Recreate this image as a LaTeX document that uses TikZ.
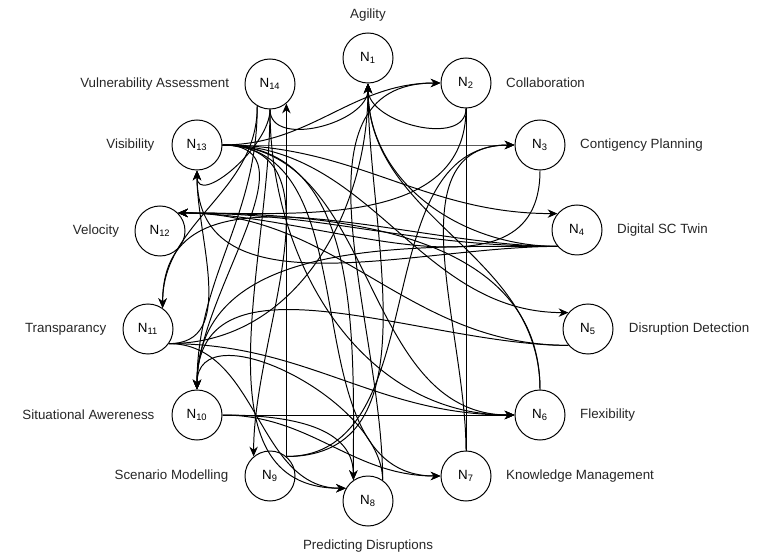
\documentclass[tikz,border=0pt]{standalone}
\usepackage{fontspec}
\setmainfont{Liberation Sans}
\usetikzlibrary{arrows.meta,positioning}

\begin{document}
\begin{tikzpicture}[
    x=0.025cm, y=0.025cm,
    every node/.style={font=\fontsize{9.5}{11}\selectfont},
    state/.style={circle, draw, line width=0.7pt, minimum size=1.25cm, inner sep=0pt},
    lbl/.style={inner sep=0pt, text=black!85},
    edge/.style={->, line width=0.7pt},
    >={Stealth[length=7pt,width=6pt]}
]
    \useasboundingbox (0,0) rectangle (761,553);

    \node[state] (n1) at (368,495) {N\textsubscript{1}};
    \node[state] (n2) at (466,470) {N\textsubscript{2}};
    \node[state] (n3) at (540,408) {N\textsubscript{3}};
    \node[state] (n4) at (577,323) {N\textsubscript{4}};
    \node[state] (n5) at (588,224) {N\textsubscript{5}};
    \node[state] (n6) at (540,138) {N\textsubscript{6}};
    \node[state] (n7) at (466,77) {N\textsubscript{7}};
    \node[state] (n8) at (368,52) {N\textsubscript{8}};
    \node[state] (n9) at (270,77) {N\textsubscript{9}};
    \node[state] (n10) at (197,138) {N\textsubscript{10}};
    \node[state] (n11) at (148,224) {N\textsubscript{11}};
    \node[state] (n12) at (160,322) {N\textsubscript{12}};
    \node[state] (n13) at (197,408) {N\textsubscript{13}};
    \node[state] (n14) at (270,469) {N\textsubscript{14}};

    \node[lbl, above=0.27cm of n1] (agility) {Agility};
    \node[lbl, right=0.36cm of n2] (collab) {Collaboration};
    \node[lbl, right=0.36cm of n3] (contig) {Contigency Planning};
    \node[lbl, right=0.36cm of n4] (twin) {Digital SC Twin};
    \node[lbl, right=0.38cm of n5] (detect) {Disruption Detection};
    \node[lbl, right=0.36cm of n6] (flex) {Flexibility};
    \node[lbl, right=0.36cm of n7] (knowl) {Knowledge Management};
    \node[lbl, below=0.33cm of n8] (predict) {Predicting Disruptions};
    \node[lbl, left=0.4cm of n9] (scen) {Scenario Modelling};
    \node[lbl, left=0.42cm of n10] (situ) {Situational Awereness};
    \node[lbl, left=0.4cm of n11] (transp) {Transparancy};
    \node[lbl, left=0.38cm of n12] (velo) {Velocity};
    \node[lbl, left=0.42cm of n13] (visib) {Visibility};
    \node[lbl, left=0.38cm of n14] (vulner) {Vulnerability Assessment};

    \draw[edge] (n13.east) to[out=0,in=180] (n2.west);
    \draw[edge] (n13.east) to[out=0,in=180] (n3.west);
    \draw[edge] (n13.east) to[out=0,in=180] (n4.140);
    \draw[edge] (n13.east) to[out=0,in=180] (n5.140);
    \draw[edge] (n13.east) to[out=0,in=180] (n6.west);
    \draw[edge] (n13.east) to[out=0,in=180] (n7.west);
    \draw[edge] (n13.east) to[out=0,in=90] (n8.125);
    \draw[edge] (n13.east) to[out=0,in=90] (n9.130);
    \draw[edge] (n13.east) to[out=0,in=90] (n10.north);
    \draw[edge] (n14.south) to[out=-90,in=-90] (n13.south);
    \draw[edge] (n14.-120) to[out=-90,in=90] (n10.north);
    \draw[edge] (n14.-120) to[out=-90,in=90] (n11.55);
    \draw[edge] (n14.south) to[out=-90,in=180] (n6.west);
    \draw[edge] (n14.south) to[out=-90,in=-90] (n1.south);
    \draw[edge] (n14.south) to[out=-90,in=180] (n8.150);
    \draw[edge] (n2.south) to[out=-90,in=-90] (n1.south);
    \draw[edge] (n2.south) to[out=-90,in=0] (n12.45);
    \draw[line width=0.7pt] (n2.south) -- (n7.north);
    \draw[edge] (n3.south) to[out=-90,in=0] (n12.45);
    \draw[edge] (n4.220) to[out=180,in=0] (n12.45);
    \draw[edge] (n4.220) to[out=180,in=90] (n11.55);
    \draw[edge] (n4.220) to[out=180,in=90] (n10.north);
    \draw[edge] (n4.220) to[out=180,in=-90] (n13.south);
    \draw[edge] (n4.220) to[out=180,in=-90] (n1.south);
    \draw[edge] (n5.220) to[out=180,in=0] (n12.45);
    \draw[edge] (n5.220) to[out=180,in=90] (n10.north);
    \draw[edge] (n6.north) to[out=90,in=-90] (n1.south);
    \draw[edge] (n6.north) to[out=90,in=0] (n12.45);
    \draw[edge] (n7.north) to[out=90,in=180] (n3.west);
    \draw[edge] (n8.55) to[out=90,in=90] (n10.north);
    \draw[edge] (n8.55) to[out=90,in=180] (n2.west);
    \draw[edge] (n9.50) -- (n14.-50);
    \draw[edge] (n9.50) to[out=0,in=-90] (n1.south);
    \draw[edge] (n9.50) to[out=0,in=180] (n3.west);
    \draw[edge] (n10.east) -- (n6.west);
    \draw[edge] (n10.east) to[out=0,in=180] (n7.west);
    \draw[edge] (n10.east) to[out=0,in=90] (n8.125);
    \draw[edge] (n11.-35) to[out=0,in=180] (n6.west);
    \draw[edge] (n11.-35) to[out=0,in=-90] (n13.south);
    \draw[edge] (n11.-35) to[out=0,in=-90] (n1.south);
    \draw[edge] (n11.-35) to[out=0,in=180] (n8.150);
\end{tikzpicture}
\end{document}
